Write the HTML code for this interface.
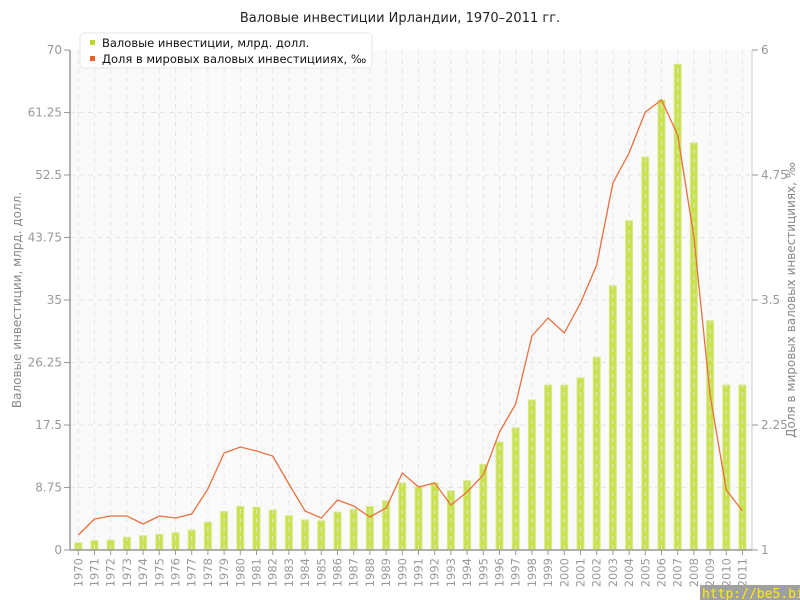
<!DOCTYPE html>
<html><head><meta charset="utf-8"><style>
html,body{margin:0;padding:0;background:#fff;}
svg{display:block;font-family:"Liberation Sans","DejaVu Sans",sans-serif;}
</style></head><body>
<svg id="s" width="800" height="600" xmlns="http://www.w3.org/2000/svg">
<rect width="800" height="600" fill="#fff"/>
<text x="400" y="22" text-anchor="middle" font-size="13" fill="#222" font-family="DejaVu Sans, sans-serif">Валовые инвестиции Ирландии, 1970–2011 гг.</text>
<rect x="70" y="50" width="682" height="500" fill="#fafafa"/>
<g id="grid"></g>
<g id="bars"></g>
<g id="vgrid"></g>
<polyline id="line" fill="none" stroke="#e8703f" stroke-width="1.3"/>
<line x1="70" y1="50" x2="70" y2="550" stroke="#999" stroke-width="1.5"/>
<line x1="752" y1="50" x2="752" y2="550" stroke="#ccc" stroke-width="1"/>
<line x1="70" y1="550" x2="752" y2="550" stroke="#999" stroke-width="1.5"/>
<g id="ticks" font-size="12" fill="#999" font-family="DejaVu Sans, sans-serif"></g>
<text transform="translate(21,300) rotate(-90)" text-anchor="middle" font-size="12" fill="#888" font-family="DejaVu Sans, sans-serif">Валовые инвестиции, млрд. долл.</text>
<text transform="translate(795,300) rotate(-90)" text-anchor="middle" font-size="12" fill="#888" font-family="DejaVu Sans, sans-serif">Доля в мировых валовых инвестицииях, ‰</text>
<rect x="80" y="33" width="292" height="35" rx="4" fill="#fff" stroke="#e6e6e6"/>
<rect x="90" y="40" width="5" height="5" fill="#b9d830"/>
<rect x="90" y="56" width="5" height="5" fill="#e8602a"/>
<text x="102" y="47" font-size="11.5" fill="#111" font-family="DejaVu Sans, sans-serif">Валовые инвестиции, млрд. долл.</text>
<text x="102" y="63" font-size="11.5" fill="#111" font-family="DejaVu Sans, sans-serif">Доля в мировых валовых инвестицииях, ‰</text>
<rect x="700" y="585" width="100" height="15" fill="#a0a0a0"/>
<text x="702" y="598" font-size="13" fill="#ffee00" font-family="DejaVu Sans Mono, monospace">http://be5.biz/</text>
</svg>
<script>
var NS="http://www.w3.org/2000/svg";
function el(t,a,p,txt){var e=document.createElementNS(NS,t);for(var k in a)e.setAttribute(k,a[k]);if(txt!==undefined)e.textContent=txt;document.getElementById(p).appendChild(e);return e;}
var bars=[1.0,1.3,1.4,1.8,2.0,2.2,2.4,2.8,3.9,5.4,6.1,6.0,5.6,4.8,4.2,4.1,5.3,5.7,6.1,6.9,9.4,8.8,9.4,8.3,9.7,12.0,15.1,17.1,21.0,23.1,23.1,24.1,27.0,37.0,46.1,55.0,63.0,68.0,57.0,32.1,23.1,23.1];
var ly=[535,519,516,516,524,516,518,514,489,453,447,451,456,484,511,518,500,506,517,508,473,487,483,505,492,475,432,404,336,318,333,303,265,183,153,112,100,135,237,395,490,511];
var lt=["70","61.25","52.5","43.75","35","26.25","17.5","8.75","0"];
for(var i=0;i<9;i++){var y=50+i*62.5;
 if(i>0&&i<8)el("line",{x1:70,x2:752,y1:y,y2:y,stroke:"#e4e4e4","stroke-dasharray":"5,4"},"grid");
 el("line",{x1:64,x2:70,y1:y,y2:y,stroke:"#999"},"ticks");
 el("text",{x:62,y:y+4,"text-anchor":"end"},"ticks",lt[i]);}
var rt=["6","4.75","3.5","2.25","1"];
for(var i=0;i<5;i++){var y=50+i*125;
 el("line",{x1:752,x2:758,y1:y,y2:y,stroke:"#999"},"ticks");
 el("text",{x:761,y:y+4},"ticks",rt[i]);}
var pts=[];
for(var i=0;i<42;i++){var x=78.3+i*16.2;var h=bars[i]*500/70;
 el("rect",{x:x-3.5,y:550-h,width:7,height:h,fill:"#c8e24e",stroke:"#d8ea8a","stroke-width":1},"bars");
 el("line",{x1:x,x2:x,y1:50,y2:550,stroke:"#e4e4e4","stroke-dasharray":"5,4","stroke-opacity":0.9},"vgrid");
 el("line",{x1:x,x2:x,y1:550,y2:555,stroke:"#999"},"ticks");
 el("text",{transform:"translate("+(x+4)+",558) rotate(-90)","text-anchor":"end","font-size":"11.5"},"ticks",String(1970+i));
 pts.push(x+","+ly[i]);}
document.getElementById("line").setAttribute("points",pts.join(" "));
</script>
</body></html>
